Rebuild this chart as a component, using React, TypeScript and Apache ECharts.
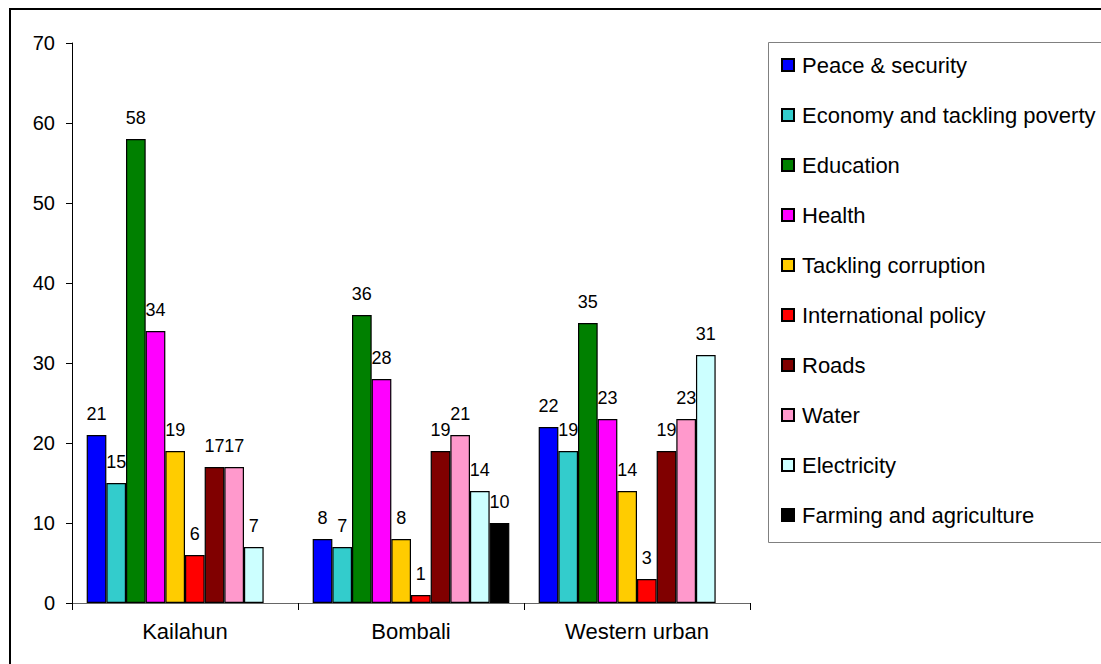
import React, { useEffect, useRef } from "react";
import * as echarts from "echarts";

const categories = ["Kailahun", "Bombali", "Western urban"];
const seriesNames = [
  "Peace & security",
  "Economy and tackling poverty",
  "Education",
  "Health",
  "Tackling corruption",
  "International policy",
  "Roads",
  "Water",
  "Electricity",
  "Farming and agriculture",
];
const colors = [
  "#0000FF",
  "#33CCCC",
  "#008000",
  "#FF00FF",
  "#FFCC00",
  "#FF0000",
  "#800000",
  "#FF99CC",
  "#CCFFFF",
  "#000000",
];
const peace = [21, 8, 22];
const economy = [15, 7, 19];
const education = [58, 36, 35];
const health = [34, 28, 23];
const corruption = [19, 8, 14];
const international = [6, 1, 3];
const roads = [17, 19, 19];
const water = [17, 21, 23];
const electricity = [7, 14, 31];
const farming = [null, 10, null];
const seriesValues = [
  peace,
  economy,
  education,
  health,
  corruption,
  international,
  roads,
  water,
  electricity,
  farming,
];
const yTicks = [0, 10, 20, 30, 40, 50, 60, 70];

const FONT = "'Liberation Sans', Arial, sans-serif";

export default function App() {
  const ref = useRef<HTMLDivElement>(null);
  useEffect(() => {
    if (!ref.current) return;
    const chart = echarts.init(ref.current, undefined, { renderer: "svg" });
    chart.setOption({
      animation: false,
      backgroundColor: "#ffffff",
      textStyle: { fontFamily: FONT },
      grid: { left: 72, right: 351, top: 43, bottom: 61, containLabel: false },
      xAxis: {
        type: "category",
        data: categories,
        axisLine: { show: true, lineStyle: { color: "#666666", width: 1 } },
        axisTick: { show: true, length: 7, lineStyle: { color: "#000000" } },
        axisLabel: { fontSize: 22, color: "#000000", margin: 17, fontFamily: FONT },
        splitLine: { show: false },
      },
      yAxis: {
        type: "value",
        min: yTicks[0],
        max: yTicks[yTicks.length - 1],
        interval: 10,
        axisLine: { show: true, lineStyle: { color: "#000000", width: 1 } },
        axisTick: { show: true, length: 6, lineStyle: { color: "#000000" } },
        axisLabel: { fontSize: 20, color: "#000000", margin: 17, fontFamily: FONT },
        splitLine: { show: false },
      },
      legend: {
        orient: "vertical",
        left: 781,
        top: 54,
        padding: 0,
        itemWidth: 12,
        itemHeight: 12,
        itemGap: 28,
        icon: "rect",
        textStyle: {
          fontSize: 22,
          lineHeight: 22,
          color: "#000000",
          fontFamily: FONT,
          padding: [0, 0, 0, 3],
        },
        data: seriesNames,
      },
      graphic: [
        {
          type: "rect",
          shape: { x: 10, y: 9, width: 1200, height: 800 },
          style: { fill: "none", stroke: "#000000", lineWidth: 2 },
          silent: true,
        },
        {
          type: "rect",
          shape: { x: 768.5, y: 42.5, width: 400, height: 500 },
          style: { fill: "none", stroke: "#808080", lineWidth: 1 },
          silent: true,
        },
      ],
      series: seriesNames.map((name, i) => ({
        name,
        type: "bar",
        data: seriesValues[i].map((v) => (v === null ? "-" : v)),
        barGap: "0%",
        barCategoryGap: "13%",
        itemStyle: { color: colors[i], borderColor: "#000000", borderWidth: 1.2 },
        label: {
          show: true,
          position: "top",
          distance: 12,
          fontSize: 18,
          color: "#000000",
          fontFamily: FONT,
        },
      })),
    });
    return () => chart.dispose();
  }, []);
  return (
    <div
      ref={ref}
      style={{ position: "fixed", left: 0, top: 0, width: 1101, height: 664 }}
    />
  );
}
